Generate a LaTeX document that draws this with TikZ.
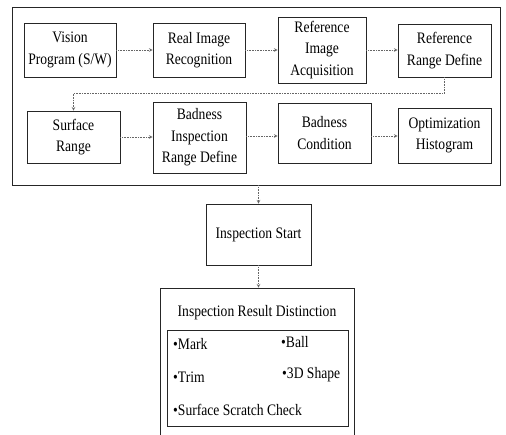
\documentclass[tikz,border=0pt]{standalone}
\usepackage{fontspec}
\setmainfont{Liberation Serif}[FakeStretch=0.85]

\begin{document}
\begin{tikzpicture}[x=1pt,y=-1pt,
    box/.style={draw=black!85,line width=0.8pt,align=center,inner sep=1pt,
      font=\fontsize{16}{21.5}\selectfont},
    flow/.style={->,>=stealth,draw=black!60,line width=0.6pt,densely dotted},
    item/.style={anchor=west,inner sep=0pt,font=\fontsize{16}{18}\selectfont}]
   \useasboundingbox (0,0) rectangle (506,435);
   \clip (0,0) rectangle (506,435);

   \node[box,minimum width=488,minimum height=178] (frame) at (256,96) {};

   \node[box,minimum width=92,minimum height=54] (vis) at (70,50) {Vision\\Program (S/W)};
   \node[box,minimum width=92,minimum height=54] (real) at (199,50) {Real Image\\Recognition};
   \node[box,minimum width=88,minimum height=66] (refimg) at (322,50) {Reference\\Image\\Acquisition};
   \node[box,minimum width=93,minimum height=53] (refrng) at (444.5,50.5) {Reference\\Range Define};

   \node[box,minimum width=93,minimum height=52] (surf) at (73.5,137) {Surface\\Range};
   \node[box,minimum width=93,minimum height=71] (badrng) at (199.5,137.5) {Badness\\Inspection\\Range Define};
   \node[box,minimum width=93,minimum height=60] (badcond) at (324.5,133) {Badness\\Condition};
   \node[box,minimum width=93,minimum height=55] (opt) at (444.5,135.5) {Optimization\\Histogram};

   \node[box,minimum width=105,minimum height=61] (start) at (258.5,234.5) {Inspection Start};

   \node[box,minimum width=194,minimum height=160] (result) at (257,368) {};
   \node[font=\fontsize{16}{18}\selectfont] (title) at (257,313) {Inspection Result Distinction};
   \node[box,minimum width=181,minimum height=96] (list) at (257.5,378) {};

   \node[item] (mark) at (173,344) {•Mark};
   \node[item] (ball) at (281,342) {•Ball};
   \node[item] (trim) at (173,377) {•Trim};
   \node[item] (shape) at (282,375) {•3D Shape};
   \node[item] (scratch) at (173,410) {•Surface Scratch Check};

   \coordinate (turn) at (73.5,93);

   \draw[flow] (vis.east) -- (vis.east -| real.west);
   \draw[flow] (real.east) -- (real.east -| refimg.west);
   \draw[flow] (refimg.east) -- (refimg.east -| refrng.west);
   \draw[flow] (refrng.south) |- (turn) -- (surf.north);
   \draw[flow] (surf.east) -- (surf.east -| badrng.west);
   \draw[flow] (badrng.east |- 0,136) -- (badcond.west |- 0,136);
   \draw[flow] (badcond.east |- 0,136) -- (opt.west |- 0,136);

   \draw[flow] (start.north |- frame.south) -- (start.north);
   \draw[flow] (start.south) -- (start.south |- result.north);

\end{tikzpicture}
\end{document}
